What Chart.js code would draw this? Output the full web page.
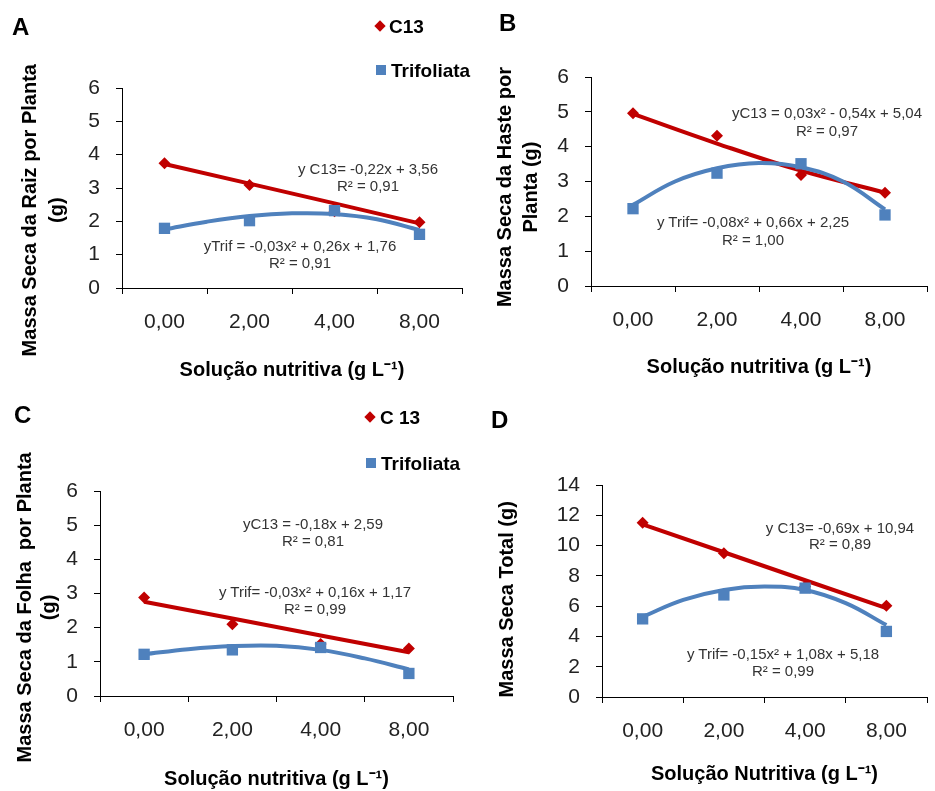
<!DOCTYPE html>
<html>
<head>
<meta charset="utf-8">
<script src="https://cdn.jsdelivr.net/npm/chart.js@4"></script>
<style>
body{margin:0;background:#fff;font-family:"Liberation Sans",Arial,sans-serif;}
#wrap{position:relative;width:935px;height:791px;overflow:hidden;}
canvas{position:absolute;}
.txt{position:absolute;white-space:nowrap;line-height:1;}
.eq{font-size:15px;color:#333;transform:translate(-50%,-50%);}
.lab{font-size:24px;font-weight:bold;color:#000;transform:translateY(-50%);}
.leg{font-size:19px;font-weight:bold;color:#000;transform:translateY(-50%);}
.dia{position:absolute;width:8px;height:8px;background:#c00000;transform:translate(-50%,-50%) rotate(45deg);}
.sq{position:absolute;width:10px;height:10px;background:#4f81bd;transform:translate(-50%,-50%);}
</style>
</head>
<body>
<div id="wrap">
<canvas id="chartA" width="470" height="390" style="left:0;top:0"></canvas>
<canvas id="chartB" width="465" height="390" style="left:470px;top:0"></canvas>
<canvas id="chartC" width="470" height="396" style="left:0;top:395px"></canvas>
<canvas id="chartD" width="465" height="396" style="left:470px;top:395px"></canvas>
</div>
<script>
/* ===============================
   DATA
=============================== */

const categories = ["0,00", "2,00", "4,00", "8,00"];

// category index of each point (0 = "0,00" ... 3 = "8,00")
const pointSteps = [0, 1, 2, 3];
const curveSteps = [0, 0.5, 1, 1.5, 2, 2.5, 3];

// A - raiz
const raizC13 = [3.74, 3.09, 2.30, 1.97];
const raizTrif = [1.79, 2.02, 2.32, 1.61];
const raizC13Trend = [3.72, 3.13, 2.54, 1.94];
const raizTrifTrend = [1.76, 1.99, 2.16, 2.24, 2.22, 2.06, 1.74];

// B - haste
const hasteC13 = [4.96, 4.31, 3.19, 2.68];
const hasteTrif = [2.22, 3.24, 3.51, 2.04];
const hasteC13Trend = [4.94, 4.09, 3.31, 2.68];
const hasteTrifTrend = [2.33, 3.00, 3.38, 3.53, 3.41, 3.00, 2.20];

// C - folha
const folhaC13 = [2.88, 2.10, 1.52, 1.39];
const folhaTrif = [1.22, 1.35, 1.42, 0.66];
const folhaC13Trend = [2.76, 2.27, 1.77, 1.28];
const folhaTrifTrend = [1.22, 1.37, 1.46, 1.47, 1.35, 1.10, 0.78];

// D - total
const totalC13 = [11.51, 9.49, 7.30, 6.02];
const totalTrif = [5.16, 6.74, 7.19, 4.33];
const totalC13Trend = [11.40, 9.56, 7.71, 5.87];
const totalTrifTrend = [5.30, 6.41, 7.07, 7.29, 7.07, 6.20, 4.75];

const RED = "#c00000";
const BLUE = "#4f81bd";
const FONT = "'Liberation Sans', Arial, sans-serif";

const toXY = (xs, ys) => ys.map((y, i) => ({ x: xs[i], y: y }));

/* ===============================
   PANEL BUILDER
=============================== */

function makePanel(id, cfg){

new Chart(document.getElementById(id), {
    type: "line",
    data: {
        labels: categories,
        datasets: [
            { data: toXY(pointSteps, cfg.c13Trend), xAxisID: "xl", borderColor: RED, borderWidth: 4, pointRadius: 0, tension: cfg.c13Tension || 0, order: 4 },
            { data: toXY(curveSteps, cfg.trifTrend), xAxisID: "xl", borderColor: BLUE, borderWidth: 4, pointRadius: 0, tension: 0.4, order: 3 },
            { data: cfg.c13, showLine: false, pointStyle: "rectRot", pointRadius: 6, backgroundColor: RED, borderColor: RED, borderWidth: 0, order: 2 },
            { data: cfg.trif, showLine: false, pointStyle: "rect", pointRadius: 8, backgroundColor: BLUE, borderColor: BLUE, borderWidth: 0, order: 1 }
        ]
    },
    options: {
        responsive: false,
        animation: false,
        layout: { padding: cfg.pad },
        plugins: { legend: { display: false }, tooltip: { enabled: false } },
        scales: {
            x: {
                offset: true,
                grid: { offset: true, drawOnChartArea: false, tickLength: 6, color: "#000" },
                border: { color: "#000", width: 1 },
                ticks: { color: "#222", padding: 16, font: { family: FONT, size: 21 } },
                title: {
                    display: true, text: cfg.xTitle, color: "#000",
                    font: { family: FONT, size: 20, weight: "bold", lineHeight: 1.2 },
                    padding: { top: 0, bottom: cfg.xTitlePad }
                },
                afterFit: s => { s.height = cfg.xHeight; }
            },
            xl: {
                type: "linear", display: false, min: -0.5, max: 3.5, offset: false
            },
            y: {
                min: 0, max: cfg.yMax,
                grid: { drawOnChartArea: false, tickLength: 6, color: "#000" },
                border: { color: "#000", width: 1 },
                ticks: { stepSize: cfg.yStep, color: "#222", padding: 16, font: { family: FONT, size: 21 } },
                title: {
                    display: true, text: cfg.yTitle, color: "#000",
                    font: { family: FONT, size: 20, weight: "bold", lineHeight: cfg.yLine },
                    padding: { top: cfg.yTitlePad, bottom: 0 }
                },
                afterFit: s => { s.width = cfg.yWidth; }
            }
        }
    }
});

}

makePanel("chartA", {
    c13: raizC13, trif: raizTrif, c13Trend: raizC13Trend, trifTrend: raizTrifTrend,
    pad: { left: 0, top: 88, right: 3, bottom: 0 },
    yMax: 6, yStep: 1, yWidth: 122, xHeight: 102,
    // trailing spaces push the rotated title down, as in the original
    yTitle: ["Massa Seca da Raiz por Planta        ", "(g)        "], yLine: 1.35, yTitlePad: 16.5,
    xTitle: "Solução nutritiva (g L⁻¹)", xTitlePad: 8
});

makePanel("chartB", {
    c13: hasteC13, trif: hasteTrif, c13Trend: hasteC13Trend, trifTrend: hasteTrifTrend, c13Tension: 0.4,
    pad: { left: 0, top: 77, right: 1, bottom: 0 },
    yMax: 6, yStep: 1, yWidth: 121, xHeight: 104,
    yTitle: ["Massa Seca da Haste por  ", "Planta (g)  "], yLine: 1.3, yTitlePad: 22.5,
    xTitle: "Solução nutritiva (g L⁻¹)", xTitlePad: 11
});

makePanel("chartC", {
    c13: folhaC13, trif: folhaTrif, c13Trend: folhaC13Trend, trifTrend: folhaTrifTrend,
    pad: { left: 0, top: 96, right: 17, bottom: 0 },
    yMax: 6, yStep: 1, yWidth: 100, xHeight: 95,
    yTitle: ["Massa Seca da Folha  por Planta     ", "(g)     "], yLine: 1.2, yTitlePad: 13,
    xTitle: "Solução nutritiva (g L⁻¹)", xTitlePad: 0
});

makePanel("chartD", {
    c13: totalC13, trif: totalTrif, c13Trend: totalC13Trend, trifTrend: totalTrifTrend,
    pad: { left: 0, top: 90, right: 1, bottom: 0 },
    yMax: 14, yStep: 2, yWidth: 132, xHeight: 94,
    yTitle: "Massa Seca Total (g)   ", yLine: 1.35, yTitlePad: 24,
    xTitle: "Solução Nutritiva (g L⁻¹)", xTitlePad: 5
});

/* ===============================
   LETTERS, LEGENDS, EQUATIONS
=============================== */

const wrap = document.getElementById("wrap");

function addText(cls, text, x, y){
    const d = document.createElement("div");
    d.className = "txt " + cls;
    d.textContent = text;
    d.style.left = x + "px";
    d.style.top = y + "px";
    wrap.appendChild(d);
}

function addMark(cls, x, y){
    const d = document.createElement("div");
    d.className = cls;
    d.style.left = x + "px";
    d.style.top = y + "px";
    wrap.appendChild(d);
}

addText("lab", "A", 12, 27);
addText("lab", "B", 499, 23);
addText("lab", "C", 14, 415);
addText("lab", "D", 491, 420);

addMark("dia", 380, 26);
addText("leg", "C13", 389, 26);
addMark("sq", 381, 70);
addText("leg", "Trifoliata", 391, 70);

addMark("dia", 370, 417);
addText("leg", "C 13", 380, 417);
addMark("sq", 371, 463);
addText("leg", "Trifoliata", 381, 463);

addText("eq", "y C13= -0,22x + 3,56", 368, 168);
addText("eq", "R² = 0,91", 368, 185);
addText("eq", "yTrif = -0,03x² + 0,26x + 1,76", 300, 245);
addText("eq", "R² = 0,91", 300, 262);

addText("eq", "yC13 = 0,03x² - 0,54x + 5,04", 827, 112);
addText("eq", "R² = 0,97", 827, 130);
addText("eq", "y Trif= -0,08x² + 0,66x + 2,25", 753, 221);
addText("eq", "R² = 1,00", 753, 239);

addText("eq", "yC13 = -0,18x + 2,59", 313, 523);
addText("eq", "R² = 0,81", 313, 540);
addText("eq", "y Trif= -0,03x² + 0,16x + 1,17", 315, 591);
addText("eq", "R² = 0,99", 315, 608);

addText("eq", "y C13= -0,69x + 10,94", 840, 527);
addText("eq", "R² = 0,89", 840, 543);
addText("eq", "y Trif= -0,15x² + 1,08x + 5,18", 783, 653);
addText("eq", "R² = 0,99", 783, 670);
</script>
</body>
</html>
